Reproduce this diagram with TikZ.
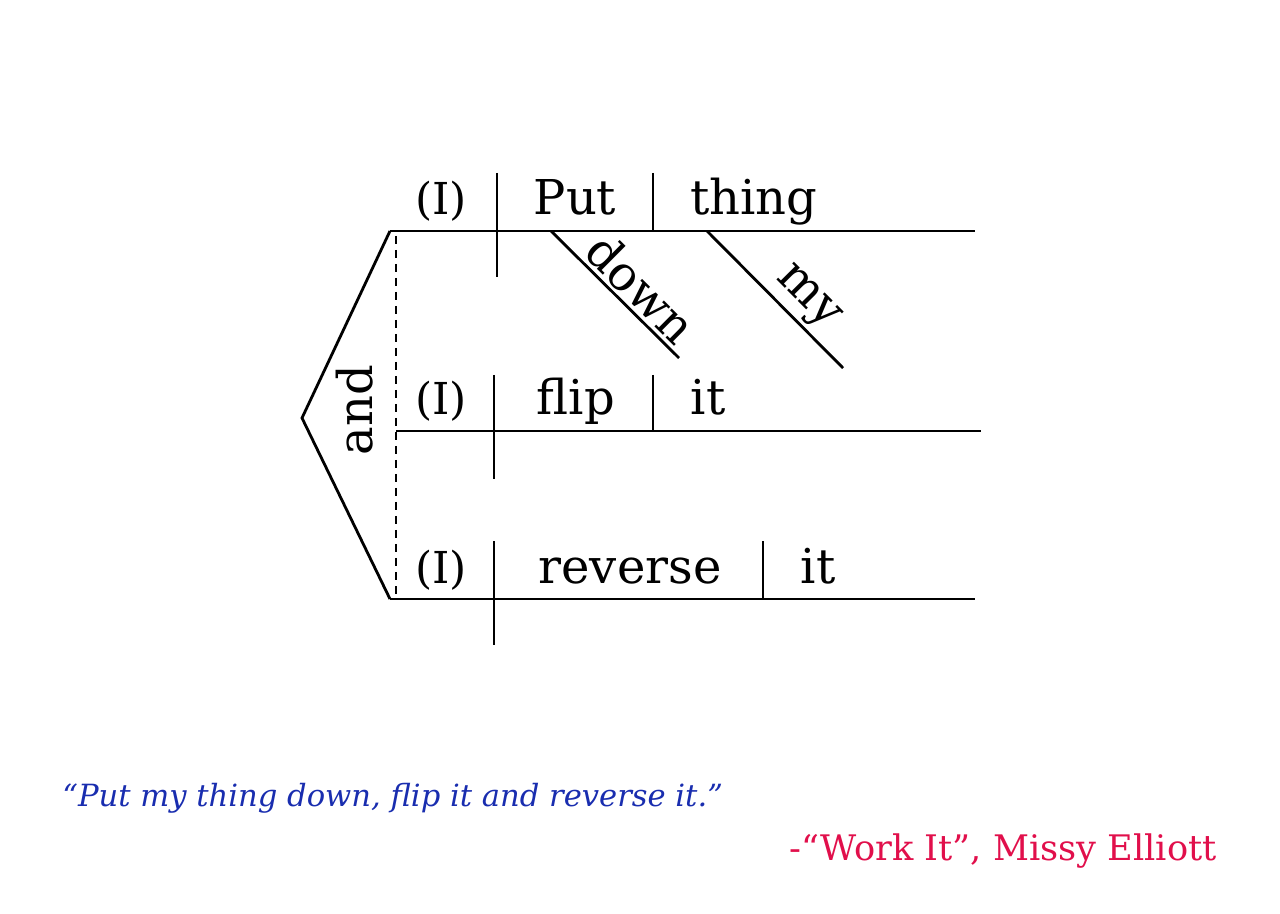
\documentclass[tikz,border=0pt]{standalone}
\usepackage{fontspec}
\setmainfont{DejaVu Serif}
\begin{document}
\begin{tikzpicture}[x=0.5pt,y=-0.5pt,
  diag/.style={line width=1.4pt, line cap=butt},
  word/.style={font=\fontsize{24}{28}\selectfont, anchor=base, inner sep=0pt},
  mod/.style={font=\fontsize{24}{28}\selectfont, sloped, above, inner sep=1.5pt},
  dashline/.style={line width=1.4pt, dash pattern=on 4pt off 3pt}]
\useasboundingbox (0,0) rectangle (1280,914);
% coordinates
\coordinate (L1a) at (390,231); \coordinate (L1b) at (975,231);
\coordinate (L2a) at (396,431); \coordinate (L2b) at (981,431);
\coordinate (L3a) at (390,599); \coordinate (L3b) at (975,599);
\coordinate (tip) at (302,418);
\coordinate (D1) at (396,236); \coordinate (D2) at (396,595);
\coordinate (S1t) at (497,173); \coordinate (S1b) at (497,277);
\coordinate (S2t) at (494,375); \coordinate (S2b) at (494,479);
\coordinate (S3t) at (494,541); \coordinate (S3b) at (494,645);
\coordinate (V1t) at (653,173); \coordinate (V1b) at (653,231);
\coordinate (V2t) at (653,375); \coordinate (V2b) at (653,431);
\coordinate (V3t) at (763,541); \coordinate (V3b) at (763,599);
\coordinate (dn1) at (551,231); \coordinate (dn2) at (679,358);
\coordinate (my1) at (707,231); \coordinate (my2) at (843,368);
% lines
\draw[diag] (L1a) -- (L1b);
\draw[diag] (L2a) -- (L2b);
\draw[diag] (L3a) -- (L3b);
\draw[diag, line join=miter] (L1a) -- (tip) -- (L3a);
\draw[dashline] (D1) -- (D2);
\draw[diag] (S1t) -- (S1b);
\draw[diag] (S2t) -- (S2b);
\draw[diag] (S3t) -- (S3b);
\draw[diag] (V1t) -- (V1b);
\draw[diag] (V2t) -- (V2b);
\draw[diag] (V3t) -- (V3b);
\draw[diag] (dn1) -- (dn2) node[mod, pos=0.58] (down) {down};
\draw[diag] (my1) -- (my2) node[mod, pos=0.61] (my) {my};
% words
\node[word, font=\fontsize{22}{26}\selectfont] (i1) at (441,215) {(I)};
\node[word] (put) at (575,215) {Put};
\node[word] (thing) at (754,215) {thing};
\node[word, font=\fontsize{22}{26}\selectfont] (i2) at (441,415) {(I)};
\node[word] (flip) at (576,415) {flip};
\node[word] (it1) at (708,415) {it};
\node[word, font=\fontsize{22}{26}\selectfont] (i3) at (441,583) {(I)};
\node[word] (rev) at (630,583) {reverse};
\node[word] (it2) at (818,583) {it};
\node[font=\fontsize{24}{28}\selectfont, rotate=90, inner sep=0pt] (and) at (355,410) {and};
% quote
\definecolor{qblue}{RGB}{25,45,175}
\definecolor{qred}{RGB}{225,15,75}
\node[font=\itshape\fontsize{15.3}{18}\selectfont, text=qblue, anchor=base west, inner sep=0pt] (quote) at (62,806) {“Put my thing down, flip it and reverse it.”};
\node[font=\fontsize{17.6}{20}\selectfont, text=qred, anchor=base east, inner sep=0pt] (attr) at (1217,860) {-“Work It”, Missy Elliott};
\end{tikzpicture}
\end{document}
